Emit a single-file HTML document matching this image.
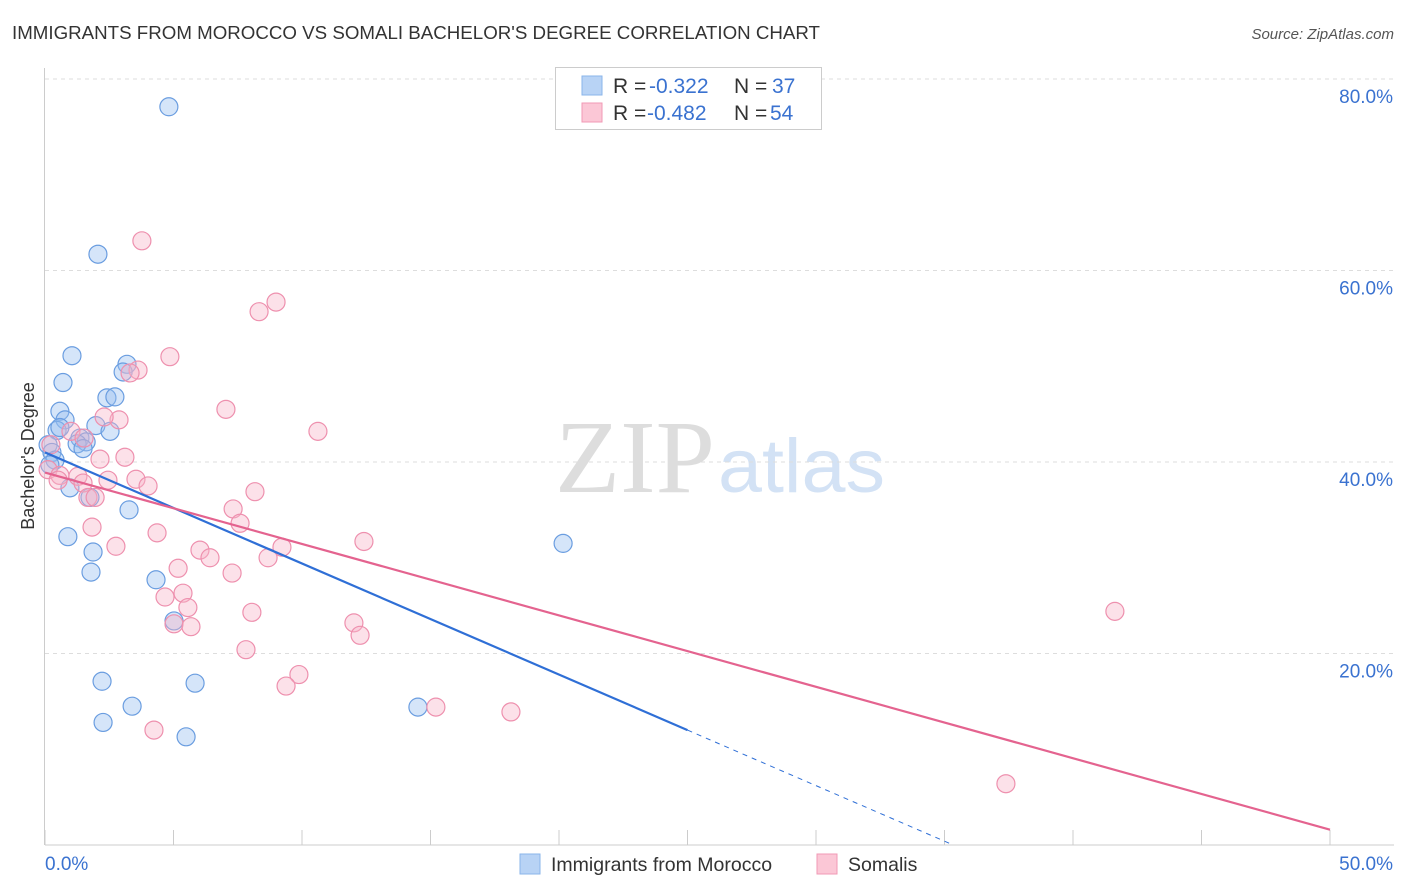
<!DOCTYPE html>
<html><head><meta charset="utf-8"><style>
body{margin:0;background:#fff;font-family:"Liberation Sans",sans-serif;}
svg{display:block}
</style></head><body>
<svg id="chart" width="1406" height="892">
<text x="12" y="39" font-size="18" fill="#333" textLength="808" lengthAdjust="spacingAndGlyphs">IMMIGRANTS FROM MOROCCO VS SOMALI BACHELOR'S DEGREE CORRELATION CHART</text>
<text x="1394" y="39" font-size="15" fill="#555" font-style="italic" text-anchor="end">Source: ZipAtlas.com</text>
<g>
<text x="555" y="492" font-size="104" fill="#ddd" font-family="Liberation Serif,serif" textLength="160" lengthAdjust="spacingAndGlyphs">ZIP</text>
<text x="718" y="492" font-size="76" fill="#d3e2f5" textLength="167" lengthAdjust="spacingAndGlyphs">atlas</text>
</g>
<g id="grid"></g>
<g id="axes"></g>
<g id="points"></g>
<g id="trends"></g>
<text transform="translate(34,456) rotate(-90)" font-size="18" fill="#333" text-anchor="middle">Bachelor's Degree</text>
<g>
<rect x="555.5" y="67.5" width="266" height="62" fill="#fff" stroke="#ccc"/>
<rect x="582" y="76" width="20" height="19" fill="#b8d3f5" stroke="#8ab4ea"/>
<rect x="582" y="103" width="20" height="19" fill="#fbc7d6" stroke="#f09ab5"/>
<text x="613" y="93" font-size="21" fill="#333">R = <tspan x="649" fill="#3a72d0">-0.322</tspan><tspan x="734">N = </tspan><tspan x="772" fill="#3a72d0">37</tspan></text>
<text x="613" y="120" font-size="21" fill="#333">R = <tspan x="647" fill="#3a72d0">-0.482</tspan><tspan x="734">N = </tspan><tspan x="770" fill="#3a72d0">54</tspan></text>
</g>
<g>
<rect x="520" y="854" width="20" height="20" fill="#b8d3f5" stroke="#8ab4ea"/>
<text x="551" y="871" font-size="19.5" fill="#333">Immigrants from Morocco</text>
<rect x="817" y="854" width="20" height="20" fill="#fbc7d6" stroke="#f09ab5"/>
<text x="848" y="871" font-size="19.5" fill="#333">Somalis</text>
</g>
</svg>
<script>
const yTicks=[20,40,60,80];
const yTickLabels=["20.0%","40.0%","60.0%","80.0%"];
const xTicks=[0,5,10,15,20,25,30,35,40,45,50];
const xEndLabels=["0.0%","50.0%"];
const moroccoX=[4.82,2.06,1.05,3.19,3.04,0.70,2.41,2.72,0.58,0.78,0.47,0.58,1.98,2.53,1.36,1.60,1.25,1.48,0.12,0.27,0.39,0.97,1.75,3.27,0.89,1.87,1.79,4.32,20.16,5.02,2.22,5.84,3.39,14.51,2.26,5.49,0.19];
const moroccoY=[77.1,61.7,51.1,50.2,49.4,48.3,46.7,46.8,45.3,44.4,43.3,43.6,43.8,43.2,42.5,42.1,41.9,41.4,41.8,41.0,40.2,37.3,36.3,35.0,32.2,30.6,28.5,27.7,31.5,23.4,17.1,16.9,14.5,14.4,12.8,11.3,39.7];
const somaliX=[3.77,8.99,8.33,4.86,3.62,3.31,7.04,2.88,2.30,10.62,1.01,1.52,0.23,3.11,2.14,0.12,0.58,1.28,1.48,2.45,3.54,4.01,1.67,1.95,8.17,7.32,7.59,1.83,4.36,12.41,2.76,6.03,6.42,9.22,8.68,5.18,7.28,4.67,5.37,5.56,8.05,5.02,5.68,12.02,12.26,41.63,7.82,9.88,9.38,4.24,15.21,18.13,37.39,0.51];
const somaliY=[63.1,56.7,55.7,51.0,49.6,49.3,45.5,44.4,44.7,43.2,43.2,42.5,41.8,40.5,40.3,39.2,38.6,38.5,37.8,38.1,38.2,37.5,36.3,36.3,36.9,35.1,33.6,33.2,32.6,31.7,31.2,30.8,30.0,31.1,30.0,28.9,28.4,25.9,26.3,24.8,24.3,23.1,22.8,23.2,21.9,24.4,20.4,17.8,16.6,12.0,14.4,13.9,6.4,38.1];
const moroccoTrend=[41.0,-1.16];
const somaliTrend=[38.9,-0.746];
const moroccoSolidEnd=25;

const NS="http://www.w3.org/2000/svg";
const X=v=>45+v*25.7;
const Y=v=>845-v*9.575;
function mk(tag,attrs,parent){const e=document.createElementNS(NS,tag);for(const k in attrs)e.setAttribute(k,attrs[k]);document.getElementById(parent).appendChild(e);return e;}
yTicks.forEach((t,i)=>{
 const l=mk('line',{x1:45,x2:1394,y1:Y(t),y2:Y(t),stroke:'#ddd','stroke-dasharray':'4,4'},'grid');
 
 
 const tx=mk('text',{x:1393,y:Y(t)+24,'font-size':19,fill:'#3a72d0','text-anchor':'end'},'axes');
 tx.textContent=yTickLabels[i];
 
 
});
const ax=mk('line',{x1:45,x2:1394,y1:845,y2:845,stroke:'#ccc'},'axes');


const ay=mk('line',{x1:44.5,x2:44.5,y1:68,y2:845,stroke:'#ccc'},'axes');


xTicks.forEach(t=>{
 const l=mk('line',{x1:X(t),x2:X(t),y1:830,y2:845,stroke:'#ccc'},'axes');
 
 
});
const xl0=mk('text',{x:45,y:870,'font-size':19,fill:'#3a72d0'},'axes');xl0.textContent=xEndLabels[0];


const xl1=mk('text',{x:1393,y:870,'font-size':19,fill:'#3a72d0','text-anchor':'end'},'axes');xl1.textContent=xEndLabels[1];


moroccoX.forEach((v,i)=>{
 const c=mk('circle',{cx:X(v),cy:Y(moroccoY[i]),r:9,fill:'rgba(150,190,240,0.4)',stroke:'#6a9de0','stroke-width':1.2},'points');
 
 
});
somaliX.forEach((v,i)=>{
 const c=mk('circle',{cx:X(v),cy:Y(somaliY[i]),r:9,fill:'rgba(248,180,200,0.4)',stroke:'#ee90ae','stroke-width':1.2},'points');
 
 
});
const mf=x=>moroccoTrend[0]+moroccoTrend[1]*x;
const mZero=-moroccoTrend[0]/moroccoTrend[1];
const t1=mk('line',{x1:X(0),y1:Y(mf(0)),x2:X(moroccoSolidEnd),y2:Y(mf(moroccoSolidEnd)),stroke:'#2f6fd6','stroke-width':2.2},'trends');


const t2=mk('line',{x1:X(moroccoSolidEnd),y1:Y(mf(moroccoSolidEnd)),x2:X(mZero),y2:Y(0),stroke:'#2f6fd6','stroke-width':1,'stroke-dasharray':'5,5'},'trends');


const sf=x=>somaliTrend[0]+somaliTrend[1]*x;
const t3=mk('line',{x1:X(0),y1:Y(sf(0)),x2:X(50),y2:Y(sf(50)),stroke:'#e4638f','stroke-width':2.2},'trends');


</script>
</body></html>
